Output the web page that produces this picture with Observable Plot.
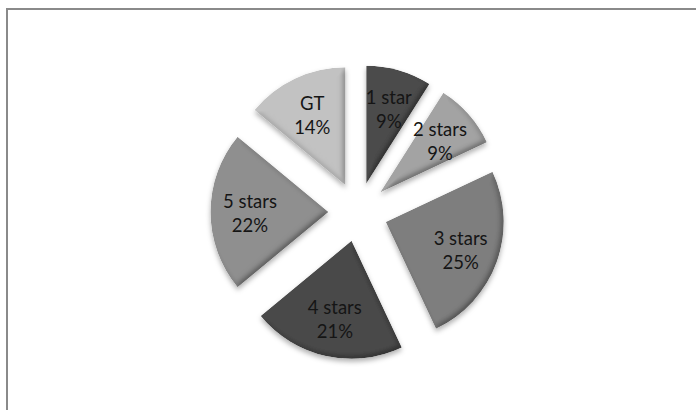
<!DOCTYPE html>
<html>
<head>
<meta charset="utf-8">
<script src="https://cdn.jsdelivr.net/npm/d3@7"></script>
<script src="https://cdn.jsdelivr.net/npm/@observablehq/plot@0.6"></script>
<style>
  html, body { margin: 0; padding: 0; background: #fff; }
  #wrap { position: relative; width: 696px; height: 410px; overflow: hidden; }
  #frame { position: absolute; left: 6px; top: 8px; width: 720px; height: 430px;
           border-left: 2px solid #8a8a8a; border-top: 2px solid #8a8a8a; box-sizing: border-box; }
  #chart { position: absolute; left: 0; top: 0; }
</style>
</head>
<body>
<div id="wrap"><div id="frame"></div><div id="chart"></div></div>
<script>
const categories = ["1 star", "2 stars", "3 stars", "4 stars", "5 stars", "GT"];
const shares = [9, 9, 25, 21, 22, 14];
const grays = ["#4b4b4b", "#a3a3a3", "#7e7e7e", "#4a4a4a", "#8f8f8f", "#c2c2c2"];

const EXPLODE = 0.25;   // offset of each slice, in radii
const LABEL_R = 0.92;   // label distance from centre, in radii

const arcs = d3.pie().sort(null).value(d => d)(shares);
const slices = categories.map((c, i) => {
  const a = arcs[i];
  const mid = (a.startAngle + a.endAngle) / 2;
  return {
    category: c, share: shares[i],
    startAngle: a.startAngle, endAngle: a.endAngle,
    tx: EXPLODE * Math.sin(mid), ty: EXPLODE * Math.cos(mid),
    lx: LABEL_R * Math.sin(mid), ly: LABEL_R * Math.cos(mid)
  };
});

const R_PX = 118, CX = 358, CY = 212, W = 696, H = 410;

function renderSlices(index, scales, values) {
  const r = scales.x(1) - scales.x(0);
  const arc = d3.arc().innerRadius(0).outerRadius(r);
  const g = d3.create("svg:g");
  const defs = g.append("defs");
  const f = defs.append("filter").attr("id", "bevel")
    .attr("x", "-20%").attr("y", "-20%").attr("width", "140%").attr("height", "140%");
  f.append("feGaussianBlur").attr("in", "SourceAlpha").attr("stdDeviation", 3).attr("result", "b");
  const dl = f.append("feDiffuseLighting").attr("in", "b").attr("surfaceScale", 3)
    .attr("diffuseConstant", 1.15).attr("lighting-color", "#ffffff").attr("result", "d");
  dl.append("feDistantLight").attr("azimuth", 225).attr("elevation", 60);
  f.append("feComposite").attr("in", "SourceGraphic").attr("in2", "d")
    .attr("operator", "arithmetic").attr("k1", 1).attr("k2", 0).attr("k3", 0).attr("k4", 0).attr("result", "lit0");
  f.append("feComposite").attr("in", "lit0").attr("in2", "SourceAlpha").attr("operator", "in").attr("result", "lit");
  f.append("feGaussianBlur").attr("in", "SourceAlpha").attr("stdDeviation", 2.5).attr("result", "sb");
  f.append("feOffset").attr("in", "sb").attr("dy", 3).attr("result", "so");
  f.append("feFlood").attr("flood-color", "#000").attr("flood-opacity", 0.3).attr("result", "fl");
  f.append("feComposite").attr("in", "fl").attr("in2", "so").attr("operator", "in").attr("result", "shadow");
  const m = f.append("feMerge");
  m.append("feMergeNode").attr("in", "shadow");
  m.append("feMergeNode").attr("in", "lit");
  for (const i of index) {
    g.append("path")
      .attr("d", arc(slices[i]))
      .attr("transform", `translate(${values.x[i]},${values.y[i]})`)
      .attr("fill", values.fill ? values.fill[i] : scales.color(slices[i].category))
      .attr("filter", "url(#bevel)");
  }
  return g.node();
}

const chart = Plot.plot({
  width: W, height: H, margin: 0,
  style: { background: "transparent" },
  x: { domain: [-CX / R_PX, (W - CX) / R_PX], range: [0, W], axis: null },
  y: { domain: [-(H - CY) / R_PX, CY / R_PX], range: [H, 0], axis: null },
  color: { domain: categories, range: grays },
  marks: [
    Plot.dot(slices, { x: "tx", y: "ty", fill: "category", render: renderSlices }),
    Plot.text(slices, {
      x: "lx", y: "ly",
      text: d => `${d.category}\n${d.share}%`,
      fontSize: 18.5, lineHeight: 1.3, fill: "#151515",
      fontFamily: "Lato, 'Open Sans', sans-serif"
    })
  ]
});
document.getElementById("chart").appendChild(chart);
</script>
</body>
</html>
